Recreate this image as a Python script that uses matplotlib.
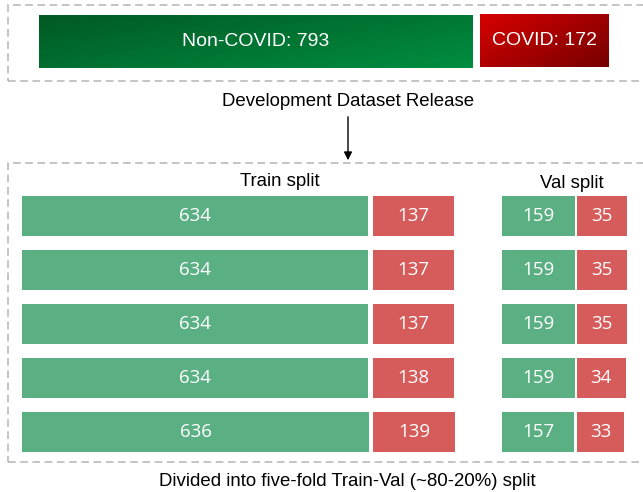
import numpy as np
import matplotlib
matplotlib.use("Agg")
import matplotlib.pyplot as plt
from matplotlib.colors import LinearSegmentedColormap
from matplotlib.patches import Rectangle, FancyArrowPatch

# ---- data ----
release_labels = ["Non-COVID", "COVID"]
release_counts = [793, 172]
train_noncovid = [634, 634, 634, 634, 636]
train_covid = [137, 137, 137, 138, 139]
val_noncovid = [159, 159, 159, 159, 157]
val_covid = [35, 35, 35, 34, 33]

W, H = 643, 492
GREEN = "#5bb083"
RED = "#d65b5b"
BOX = "#b4b4b4"
LBL_FONT = ["Liberation Sans", "DejaVu Sans"]
NUM_FONT = ["Open Sans", "DejaVu Sans"]


def px(x0, y0, x1, y1):
    # pixel box (top-left origin) -> figure fraction rect
    return [x0 / W, 1 - y1 / H, (x1 - x0) / W, (y1 - y0) / H]


def new_ax(rect):
    ax = fig.add_axes(px(*rect))
    ax.set_axis_off()
    ax.patch.set_alpha(0)
    return ax


fig = plt.figure(figsize=(W / 100, H / 100), dpi=100)

# dashed frames (right side runs off the canvas)
for y0, y1 in [(5, 81), (163, 462)]:
    fig.patches.append(Rectangle((8 / W, 1 - y1 / H), 1.0, (y1 - y0) / H,
                                 transform=fig.transFigure, fill=False,
                                 ec=BOX, lw=1.1, ls=(0, (5, 3))))

# ---- top: development release, one column per class, gradient fill ----
top_cols = [(39, 15, 473, 68), (480, 14, 609, 67)]
grads = [LinearSegmentedColormap.from_list("g", ["#005a24", "#008d40"]),
         LinearSegmentedColormap.from_list("r", ["#d60000", "#780000"])]
gx, gy = np.meshgrid(np.linspace(0, 1, 64), np.linspace(0, 1, 16))
grad = gx * 0.6 + gy * 0.4
for rect, cm, lab, n in zip(top_cols, grads, release_labels, release_counts):
    ax = new_ax(rect)
    b = ax.barh(0, n, height=1, color="none", lw=0)[0]
    im = ax.imshow(grad, cmap=cm, extent=(0, n, 0.5, -0.5), aspect="auto")
    im.set_clip_path(b)
    ax.text(n / 2, 0, f"{lab}: {n}", ha="center", va="center",
            color="white", fontsize=14, family=LBL_FONT)
    ax.set_xlim(0, n)
    ax.set_ylim(0.5, -0.5)

fig.text(348 / W, 1 - 101 / H, "Development Dataset Release", ha="center",
         va="center", fontsize=13.4, family=LBL_FONT)
fig.patches.append(FancyArrowPatch(
    (348 / W, 1 - 114 / H), (348 / W, 1 - 163 / H), transform=fig.transFigure,
    arrowstyle="-|>", mutation_scale=12, color="black", lw=1.0))


# ---- five folds: each class column in its own axes ----
def column(xl, xr, vals, color):
    ax = new_ax((xl, 189, xr, 459))
    rows = np.arange(len(vals))
    ax.barh(rows, vals, height=0.74, color=color, lw=0)
    for i in rows:
        ax.text(vals[i] / 2, i, str(vals[i]), ha="center", va="center",
                color="white", fontsize=13.5, family=NUM_FONT)
    ax.set_xlim(0, max(vals))
    ax.set_ylim(len(vals) - 0.5, -0.5)


column(22, 369, train_noncovid, GREEN)
column(373, 455, train_covid, RED)
column(502, 575, val_noncovid, GREEN)
column(577, 627, val_covid, RED)

fig.text(280 / W, 1 - 182 / H, "Train split", ha="center", va="center",
         fontsize=13.4, family=LBL_FONT)
fig.text(572 / W, 1 - 183 / H, "Val split", ha="center", va="center",
         fontsize=13.4, family=LBL_FONT)
fig.text(347 / W, 1 - 481 / H, "Divided into five-fold Train-Val (~80-20%) split",
         ha="center", va="center", fontsize=13.4, family=LBL_FONT)

fig.savefig("out.png", dpi=100)
